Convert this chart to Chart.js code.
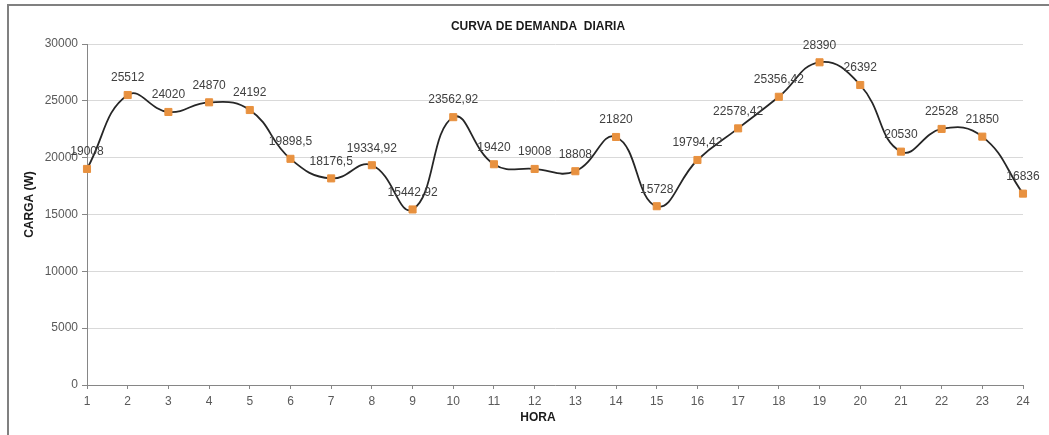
<!DOCTYPE html>
<html><head><meta charset="utf-8">
<script src="https://cdn.jsdelivr.net/npm/chart.js@4/dist/chart.umd.min.js"></script>
<style>html,body{margin:0;padding:0;background:#fff;overflow:hidden}canvas{display:block}</style>
</head><body>
<canvas id="c" width="1049" height="435"></canvas>
<script>
const horas = ['1','2','3','4','5','6','7','8','9','10','11','12','13','14','15','16','17','18','19','20','21','22','23','24'];
const carga = [19008, 25512, 24020, 24870, 24192, 19898.5, 18176.5, 19334.92, 15442.92, 23562.92, 19420, 19008, 18808, 21820, 15728, 19794.42, 22578.42, 25356.42, 28390, 26392, 20530, 22528, 21850, 16836];
const yTicks = [0, 5000, 10000, 15000, 20000, 25000, 30000];
const chartTitle = 'CURVA DE DEMANDA  DIARIA';
const yTitle = 'CARGA (W)';
const xTitle = 'HORA';

const FONT = '"Liberation Sans", Arial, sans-serif';
const fmt = v => String(v).replace('.', ',');

const framePlugin = {
  id: 'frame',
  beforeDraw(chart) {
    const ctx = chart.ctx;
    ctx.save();
    ctx.fillStyle = '#fff';
    ctx.fillRect(0, 0, chart.width, chart.height);
    ctx.strokeStyle = '#808080';
    ctx.lineWidth = 2;
    ctx.beginPath();
    ctx.moveTo(8, chart.height);
    ctx.lineTo(8, 5);
    ctx.lineTo(chart.width, 5);
    ctx.stroke();
    ctx.restore();
  },
  afterDraw(chart) {
    const ctx = chart.ctx;
    const ca = chart.chartArea;
    ctx.save();
    ctx.fillStyle = '#1a1a1a';
    ctx.textAlign = 'center';
    ctx.textBaseline = 'middle';
    ctx.font = 'bold 12px ' + FONT;
    ctx.fillText(chartTitle, 538, 27);
    ctx.fillText(xTitle, 538, 418);
    ctx.translate(30, (ca.top + ca.bottom) / 2 - 10);
    ctx.rotate(-Math.PI / 2);
    ctx.fillText(yTitle, 0, 0);
    ctx.restore();
  }
};

const labelPlugin = {
  id: 'pointLabels',
  afterDatasetsDraw(chart) {
    const ctx = chart.ctx;
    const meta = chart.getDatasetMeta(0);
    ctx.save();
    ctx.font = '12px ' + FONT;
    ctx.fillStyle = '#404040';
    ctx.textAlign = 'center';
    ctx.textBaseline = 'middle';
    meta.data.forEach((pt, i) => {
      ctx.fillText(fmt(carga[i]), pt.x, pt.y - 17);
    });
    ctx.restore();
  }
};

new Chart(document.getElementById('c'), {
  type: 'line',
  data: {
    labels: horas,
    datasets: [{
      data: carga,
      borderColor: '#262626',
      borderWidth: 1.8,
      tension: 0.45,
      pointStyle: 'rect',
      pointRadius: 5,
      pointBackgroundColor: '#E8913F',
      pointBorderColor: '#E8913F',
      pointBorderWidth: 1
    }]
  },
  options: {
    responsive: false,
    animation: false,
    devicePixelRatio: 1,
    layout: { padding: { left: 8, top: 44, right: 26, bottom: 0 } },
    plugins: { legend: { display: false }, title: { display: false }, tooltip: { enabled: false } },
    scales: {
      x: {
        type: 'category',
        offset: false,
        grid: { drawOnChartArea: false, drawTicks: true, tickLength: 4, color: '#868686' },
        border: { color: '#868686', width: 1 },
        ticks: { font: { family: FONT, size: 12 }, color: '#595959', padding: 5, maxRotation: 0, autoSkip: false },
        afterFit(s) { s.height = 50; }
      },
      y: {
        min: 0,
        max: 30000,
        grid: { color: '#d9d9d9', tickColor: '#868686', tickLength: 5 },
        border: { color: '#868686', width: 1 },
        ticks: { font: { family: FONT, size: 12 }, color: '#595959', padding: 4, callback: v => String(v) },
        afterBuildTicks(s) { s.ticks = yTicks.map(v => ({ value: v })); },
        afterFit(s) { s.width = 79; }
      }
    }
  },
  plugins: [framePlugin, labelPlugin]
});
</script>
</body></html>
